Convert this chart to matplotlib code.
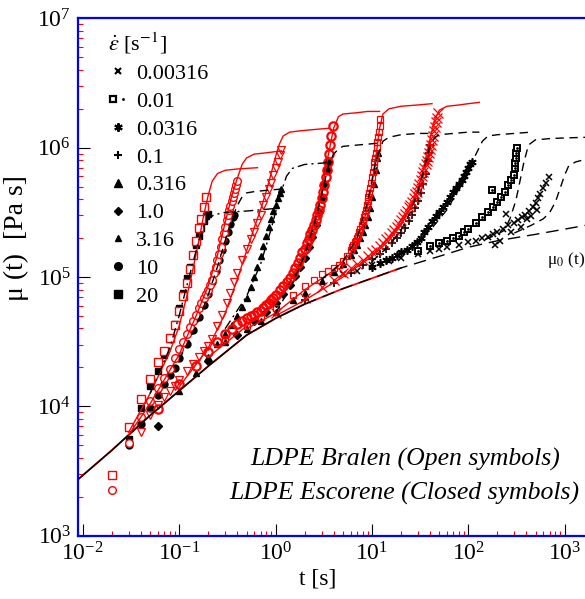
import matplotlib

matplotlib.use("Agg")
import matplotlib.pyplot as plt
import numpy as np
from matplotlib.legend_handler import HandlerTuple
from matplotlib.lines import Line2D
from matplotlib.ticker import LogLocator, NullFormatter

plt.rcParams["font.family"] = ["Liberation Serif", "DejaVu Serif"]
plt.rcParams["mathtext.fontset"] = "stix"

# values: t in s, mu given as log10(mu / Pa s)

# linear viscoelastic envelope mu0(t)
lve_t = [0.0091, 0.02, 0.05, 0.1, 0.2, 0.5, 1, 2, 5, 10, 20, 50, 100, 200, 500, 1000, 1660]
lve_logmu = [3.44, 3.66, 3.93, 4.12, 4.31, 4.55, 4.68, 4.79, 4.91, 4.99, 5.07, 5.16,
             5.23, 5.28, 5.33, 5.37, 5.40]

# LDPE Bralen, measured (open red symbols)
bra20_t = [0.02, 0.03, 0.04, 0.05, 0.06, 0.07, 0.08, 0.09, 0.10, 0.11, 0.12, 0.13,
           0.14, 0.15, 0.16, 0.17, 0.18, 0.19]
bra20_logmu = [3.47, 3.84, 4.06, 4.21, 4.34, 4.43, 4.53, 4.63, 4.74, 4.85, 4.95, 5.06,
               5.17, 5.28, 5.38, 5.45, 5.54, 5.62]
bra10_t = [0.02, 0.03, 0.04, 0.05, 0.06, 0.07, 0.08, 0.09, 0.10, 0.11, 0.12, 0.13,
           0.14, 0.15, 0.16, 0.17, 0.18, 0.19, 0.20, 0.21, 0.22, 0.23, 0.24, 0.25,
           0.26, 0.27, 0.28, 0.29, 0.30, 0.31, 0.32, 0.33, 0.34, 0.35, 0.36, 0.37,
           0.38, 0.39, 0.40]
bra10_logmu = [3.35, 3.72, 3.92, 4.04, 4.14, 4.22, 4.29, 4.37, 4.44, 4.50, 4.56, 4.61,
               4.66, 4.71, 4.76, 4.80, 4.84, 4.87, 4.90, 4.94, 4.98, 5.03, 5.08, 5.13,
               5.18, 5.23, 5.29, 5.34, 5.39, 5.44, 5.48, 5.52, 5.55, 5.59, 5.62, 5.65,
               5.68, 5.71, 5.74]
bra316_t = [0.04, 0.05, 0.06, 0.07, 0.08, 0.09, 0.10, 0.12, 0.14, 0.16, 0.18, 0.20,
            0.22, 0.25, 0.28, 0.31, 0.34, 0.37, 0.40, 0.45, 0.50, 0.55, 0.60, 0.65,
            0.70, 0.75, 0.80, 0.85, 0.90, 0.95, 1.00, 1.05, 1.10, 1.15]
bra316_logmu = [3.80, 3.93, 4.01, 4.07, 4.12, 4.16, 4.20, 4.27, 4.33, 4.38, 4.43, 4.47,
                4.52, 4.62, 4.71, 4.80, 4.88, 4.96, 5.03, 5.13, 5.22, 5.29, 5.35, 5.42,
                5.48, 5.56, 5.62, 5.68, 5.73, 5.79, 5.84, 5.89, 5.94, 5.98]
bra1_t = [0.06, 0.1, 0.15, 0.2, 0.25, 0.3, 0.35, 0.4, 0.45, 0.5, 0.55, 0.6, 0.65, 0.7,
          0.75, 0.8, 0.85, 0.9, 0.95, 1.0, 1.1, 1.2, 1.3, 1.4, 1.5, 1.6, 1.7, 1.8, 1.9,
          2.0, 2.1, 2.2, 2.3, 2.4, 2.5, 2.6, 2.7, 2.8, 2.9, 3.0, 3.1, 3.2, 3.3, 3.4,
          3.5, 3.6, 3.7, 3.8, 3.9]
bra1_logmu = [3.98, 4.17, 4.31, 4.42, 4.50, 4.56, 4.60, 4.64, 4.66, 4.68, 4.70, 4.71,
              4.73, 4.74, 4.76, 4.78, 4.80, 4.82, 4.84, 4.86, 4.90, 4.93, 4.96, 4.99,
              5.03, 5.07, 5.11, 5.15, 5.19, 5.22, 5.26, 5.29, 5.33, 5.36, 5.40, 5.44,
              5.48, 5.52, 5.56, 5.61, 5.66, 5.71, 5.77, 5.83, 5.89, 5.95, 6.02, 6.09, 6.17]
bra0316_t = [0.3, 0.5, 0.7, 1.0, 1.5, 2.0, 2.5, 3.0, 3.5, 4.0, 4.5, 5.0, 5.5, 6.0, 6.2,
             6.4, 6.6, 6.8, 7.0, 7.2, 7.4, 7.6, 7.8, 8.0, 8.2, 8.4, 8.6, 8.8, 9.0, 9.2,
             9.4, 9.6, 9.8, 10.0, 10.2, 10.4, 10.6, 10.8, 11.0, 11.2, 11.4, 11.6, 11.8,
             12.0, 12.2]
bra0316_logmu = [4.52, 4.62, 4.69, 4.76, 4.86, 4.93, 4.98, 5.02, 5.05, 5.07, 5.09, 5.12,
                 5.16, 5.21, 5.23, 5.25, 5.27, 5.28, 5.30, 5.32, 5.35, 5.37, 5.40, 5.43,
                 5.46, 5.49, 5.52, 5.56, 5.59, 5.62, 5.65, 5.69, 5.73, 5.77, 5.81, 5.85,
                 5.89, 5.92, 5.96, 6.00, 6.04, 6.08, 6.12, 6.17, 6.22]
bra01_t = [1, 2, 3, 4, 5, 6, 7, 8, 9, 10, 11, 12, 13, 14, 15, 16, 17, 18, 19, 20, 21, 22,
           23, 24, 25, 26, 27, 28, 29, 30, 31, 32, 33, 34, 35, 36, 37, 38, 39, 40, 41, 42,
           43, 44, 45, 46, 47, 48]
bra01_logmu = [4.72, 4.84, 4.92, 4.98, 5.03, 5.07, 5.10, 5.13, 5.16, 5.19, 5.21, 5.24,
               5.26, 5.29, 5.31, 5.34, 5.36, 5.39, 5.41, 5.44, 5.46, 5.49, 5.51, 5.54,
               5.56, 5.58, 5.61, 5.64, 5.66, 5.69, 5.72, 5.75, 5.78, 5.81, 5.84, 5.87,
               5.90, 5.93, 5.96, 5.99, 6.02, 6.06, 6.09, 6.13, 6.16, 6.20, 6.23, 6.27]

# LDPE Escorene, measured (closed black symbols)
esc20_t = [0.03, 0.04, 0.05, 0.06, 0.07, 0.08, 0.09, 0.10, 0.11, 0.12, 0.13, 0.14, 0.15,
           0.16, 0.17, 0.18, 0.19, 0.20]
esc20_logmu = [3.75, 3.99, 4.16, 4.27, 4.40, 4.52, 4.64, 4.76, 4.88, 4.99, 5.08, 5.17,
               5.25, 5.32, 5.38, 5.43, 5.47, 5.49]
esc10_t = [0.03, 0.04, 0.05, 0.06, 0.07, 0.08, 0.09, 0.10, 0.12, 0.14, 0.16, 0.18, 0.20,
           0.22, 0.24, 0.26, 0.28, 0.30, 0.32, 0.34, 0.36, 0.37]
esc10_logmu = [3.70, 3.86, 3.99, 4.09, 4.17, 4.24, 4.30, 4.37, 4.48, 4.59, 4.69, 4.78,
               4.87, 4.96, 5.05, 5.13, 5.21, 5.28, 5.35, 5.41, 5.46, 5.48]
esc316_t = [0.1, 0.15, 0.2, 0.25, 0.3, 0.35, 0.4, 0.45, 0.5, 0.55, 0.6, 0.65, 0.7, 0.75,
            0.8, 0.85, 0.9, 0.95, 1.0, 1.05, 1.1, 1.15]
esc316_logmu = [4.12, 4.26, 4.38, 4.48, 4.56, 4.63, 4.70, 4.77, 4.84, 4.92, 5.00, 5.08,
                5.16, 5.24, 5.32, 5.39, 5.45, 5.51, 5.56, 5.61, 5.65, 5.68]
esc1_t = [0.06, 0.2, 0.4, 0.6, 0.8, 1.0, 1.2, 1.4, 1.6, 1.8, 2.0, 2.2, 2.4, 2.6, 2.8, 3.0,
          3.2, 3.4, 3.5]
esc1_logmu = [3.85, 4.35, 4.55, 4.66, 4.73, 4.80, 4.87, 4.94, 5.01, 5.08, 5.15, 5.23,
              5.31, 5.40, 5.50, 5.60, 5.72, 5.83, 5.89]
esc0316_t = [0.3, 0.5, 0.7, 1, 1.5, 2, 3, 4, 5, 6, 6.5, 7, 7.5, 8, 8.5, 9, 9.5, 10, 10.5,
             11, 11.3, 11.5]
esc0316_logmu = [4.50, 4.60, 4.66, 4.73, 4.82, 4.88, 4.97, 5.04, 5.10, 5.17, 5.21, 5.25,
                 5.30, 5.35, 5.40, 5.46, 5.53, 5.62, 5.72, 5.83, 5.92, 5.96]
esc01_t = [2, 4, 6, 8, 10, 12, 14, 16, 18, 20, 22, 24, 26, 28, 30, 32, 34, 36, 38, 39, 40]
esc01_logmu = [4.82, 4.95, 5.03, 5.09, 5.14, 5.18, 5.22, 5.26, 5.30, 5.34, 5.38, 5.43,
               5.48, 5.53, 5.59, 5.65, 5.72, 5.80, 5.90, 5.96, 6.02]
esc00316_t = [10, 12, 14, 16, 18, 20, 23, 26, 29, 32, 35, 38, 42, 46, 50, 55, 60, 65, 70,
              75, 80, 85, 90, 95, 100, 105, 110]
esc00316_logmu = [5.08, 5.11, 5.13, 5.15, 5.17, 5.19, 5.21, 5.24, 5.27, 5.30, 5.35, 5.39,
                  5.43, 5.47, 5.50, 5.54, 5.58, 5.62, 5.66, 5.69, 5.72, 5.75, 5.78, 5.81,
                  5.84, 5.87, 5.89]
esc001_t = [30, 40, 50, 60, 70, 80, 90, 100, 120, 140, 160, 176, 180, 200, 220, 240, 260,
            280, 300, 305, 308, 311, 314, 316]
esc001_logmu = [5.20, 5.24, 5.26, 5.28, 5.30, 5.32, 5.35, 5.37, 5.42, 5.46, 5.50, 5.67,
                5.54, 5.58, 5.62, 5.66, 5.71, 5.75, 5.79, 5.84, 5.88, 5.92, 5.96, 6.00]
esc000316_t = [5, 7, 10, 15, 20, 30, 40, 50, 60, 80, 100, 120, 140, 160, 180, 190, 200,
               215, 230, 246, 260, 280, 300, 330, 350, 360, 390, 410, 430, 450, 470, 500,
               520, 530, 560, 600, 640, 680]
esc000316_logmu = [5.02, 5.05, 5.09, 5.12, 5.15, 5.18, 5.20, 5.22, 5.23, 5.25, 5.27, 5.28,
                   5.30, 5.31, 5.33, 5.25, 5.35, 5.28, 5.37, 5.49, 5.40, 5.35, 5.42, 5.44,
                   5.39, 5.46, 5.48, 5.45, 5.51, 5.47, 5.54, 5.57, 5.52, 5.61, 5.64, 5.69,
                   5.73, 5.77]

# model predictions, Bralen (thin red lines)
mod_bra20_t = [0.03, 0.05, 0.08, 0.10, 0.12, 0.14, 0.16, 0.18, 0.20, 0.22, 0.25, 0.30, 0.40, 0.65]
mod_bra20_logmu = [3.80, 4.10, 4.42, 4.62, 4.85, 5.07, 5.28, 5.48, 5.63, 5.74, 5.80, 5.825,
                   5.835, 5.845]
mod_bra10_t = [0.03, 0.05, 0.1, 0.15, 0.2, 0.25, 0.3, 0.35, 0.4, 0.45, 0.5, 0.6, 0.8, 1.15]
mod_bra10_logmu = [3.78, 4.02, 4.40, 4.70, 4.93, 5.17, 5.42, 5.62, 5.76, 5.87, 5.92, 5.95,
                   5.96, 5.975]
mod_bra316_t = [0.1, 0.2, 0.3, 0.4, 0.5, 0.6, 0.7, 0.8, 0.9, 1.0, 1.1, 1.2, 1.4, 1.8, 2.5, 3.6]
mod_bra316_logmu = [4.15, 4.45, 4.72, 4.98, 5.20, 5.38, 5.52, 5.66, 5.80, 5.93, 6.03, 6.09,
                    6.12, 6.13, 6.14, 6.15]
mod_bra1_t = [0.2, 0.5, 1.0, 1.5, 2.0, 2.5, 3.0, 3.5, 4.0, 4.5, 5.0, 7.0, 9.0, 12.0]
mod_bra1_logmu = [4.38, 4.62, 4.80, 5.00, 5.20, 5.42, 5.66, 5.93, 6.15, 6.24, 6.26, 6.27,
                  6.28, 6.28]
mod_bra0316_t = [0.5, 1, 2, 4, 6, 8, 9, 10, 11, 12, 13, 15, 20, 30, 42]
mod_bra0316_logmu = [4.60, 4.72, 4.90, 5.05, 5.18, 5.40, 5.54, 5.72, 5.93, 6.15, 6.26, 6.30,
                     6.32, 6.33, 6.34]
mod_bra01_t = [1, 2, 5, 10, 15, 20, 25, 30, 35, 40, 45, 50, 60, 80, 100, 130]
mod_bra01_logmu = [4.70, 4.82, 5.00, 5.16, 5.28, 5.40, 5.53, 5.68, 5.86, 6.06, 6.22, 6.29,
                   6.32, 6.33, 6.34, 6.35]

# model predictions, Escorene (black dashed lines)
mod_esc20_t = [0.05, 0.08, 0.10, 0.12, 0.14, 0.16, 0.18, 0.20, 0.23, 0.3, 0.5, 1.0]
mod_esc20_logmu = [4.10, 4.45, 4.70, 4.93, 5.12, 5.28, 5.39, 5.45, 5.48, 5.50, 5.51, 5.53]
mod_esc10_t = [0.1, 0.15, 0.2, 0.25, 0.3, 0.35, 0.4, 0.45, 0.5, 0.6, 0.8, 1.15]
mod_esc10_logmu = [4.36, 4.62, 4.86, 5.08, 5.28, 5.44, 5.55, 5.62, 5.65, 5.66, 5.67, 5.68]
mod_esc316_t = [0.3, 0.5, 0.7, 0.9, 1.1, 1.3, 1.5, 2.0, 3.0, 3.9]
mod_esc316_logmu = [4.60, 4.85, 5.10, 5.37, 5.62, 5.78, 5.84, 5.87, 5.88, 5.89]
mod_esc1_t = [1, 1.5, 2, 2.5, 3, 3.5, 4, 4.5, 5, 7, 10, 13]
mod_esc1_logmu = [4.72, 4.95, 5.17, 5.40, 5.63, 5.85, 5.95, 5.99, 6.01, 6.02, 6.03, 6.04]
mod_esc0316_t = [3, 5, 7, 9, 11, 13, 15, 20, 30, 42]
mod_esc0316_logmu = [4.98, 5.12, 5.30, 5.58, 5.90, 6.05, 6.08, 6.10, 6.11, 6.11]
mod_esc01_t = [10, 15, 20, 25, 30, 35, 40, 45, 50, 70, 100, 130]
mod_esc01_logmu = [5.12, 5.24, 5.36, 5.50, 5.66, 5.84, 6.02, 6.08, 6.10, 6.11, 6.12, 6.12]
mod_esc00316_t = [20, 40, 60, 80, 100, 120, 140, 160, 200, 300, 450]
mod_esc00316_logmu = [5.18, 5.36, 5.52, 5.68, 5.82, 5.95, 6.05, 6.09, 6.10, 6.11, 6.12]
mod_esc001_t = [150, 200, 235, 270, 311, 345, 375, 420, 495, 700, 1000, 1660]
mod_esc001_logmu = [5.29, 5.33, 5.36, 5.45, 5.59, 5.75, 5.88, 6.02, 6.06, 6.07, 6.075, 6.08]
mod_esc000316_t = [300, 450, 600, 700, 800, 900, 1000, 1100, 1300, 1660]
mod_esc000316_logmu = [5.34, 5.40, 5.45, 5.50, 5.58, 5.69, 5.79, 5.86, 5.89, 5.91]

rate_labels = ["0.00316", "0.01", "0.0316", "0.1", "0.316", "1.0", "3.16", "10", "20"]


def mu(logmu):
    return 10.0 ** np.asarray(logmu)


fig = plt.figure(figsize=(5.85, 5.99), dpi=100)
ax = fig.add_axes([78 / 585, 63.3 / 599, 507 / 585, 517.4 / 599])

RED = "#ff0000"

# measured Escorene (closed black)
ax.plot(esc000316_t, mu(esc000316_logmu), ls="none", marker="x", color="k", ms=5, mew=1.1)
ax.plot(esc001_t, mu(esc001_logmu), ls="none", marker="s", mfc="white", mec="k", ms=5, mew=1.4)
ax.plot(esc001_t, mu(esc001_logmu), ls="none", marker=".", color="k", ms=2)
ax.plot(esc00316_t, mu(esc00316_logmu), ls="none", marker=(6, 2, 0), color="k", ms=6, mew=1.2)
ax.plot(esc01_t, mu(esc01_logmu), ls="none", marker="+", color="k", ms=6, mew=1.2)
ax.plot(esc0316_t, mu(esc0316_logmu), ls="none", marker="^", color="k", ms=5)
ax.plot(esc1_t, mu(esc1_logmu), ls="none", marker="D", color="k", ms=4)
ax.plot(esc316_t, mu(esc316_logmu), ls="none", marker="^", color="k", ms=4.2)
ax.plot(esc10_t, mu(esc10_logmu), ls="none", marker="o", color="k", ms=5)
ax.plot(esc20_t, mu(esc20_logmu), ls="none", marker="s", color="k", ms=5)

# measured Bralen (open red)
ax.plot(bra01_t, mu(bra01_logmu), ls="none", marker="x", color=RED, ms=6.5, mew=0.9)
ax.plot(bra0316_t, mu(bra0316_logmu), ls="none", marker="s", mfc="none", mec=RED, ms=5, mew=0.9)
ax.plot(bra1_t, mu(bra1_logmu), ls="none", marker="o", mfc="none", mec=RED, ms=6, mew=1.6)
ax.plot(bra316_t, mu(bra316_logmu), ls="none", marker="v", mfc="none", mec=RED, ms=5.5, mew=0.9)
ax.plot(bra10_t, mu(bra10_logmu), ls="none", marker="o", mfc="white", mec=RED, ms=5.5, mew=1.0)
ax.plot(bra20_t, mu(bra20_logmu), ls="none", marker="s", mfc="white", mec=RED, ms=5.5, mew=1.0)

# envelope
ax.plot(lve_t[:11], mu(lve_logmu[:11]), color=RED, lw=1.3)
ax.plot(lve_t[:8], mu(lve_logmu[:8]), color="k", lw=1.1)
ax.plot(lve_t[7:], mu(lve_logmu[7:]), color="k", lw=1.0, dashes=(9, 5))

# model lines
for t, lm in [(mod_bra20_t, mod_bra20_logmu), (mod_bra10_t, mod_bra10_logmu),
              (mod_bra316_t, mod_bra316_logmu), (mod_bra1_t, mod_bra1_logmu),
              (mod_bra0316_t, mod_bra0316_logmu), (mod_bra01_t, mod_bra01_logmu)]:
    ax.plot(t, mu(lm), color=RED, lw=1.0)

dash = (6, 4)
dashdot = (7, 3, 1.5, 3)
for t, lm, style in [(mod_esc20_t, mod_esc20_logmu, dashdot), (mod_esc10_t, mod_esc10_logmu, dash),
                     (mod_esc316_t, mod_esc316_logmu, dashdot), (mod_esc1_t, mod_esc1_logmu, dash),
                     (mod_esc0316_t, mod_esc0316_logmu, dash), (mod_esc01_t, mod_esc01_logmu, dash),
                     (mod_esc00316_t, mod_esc00316_logmu, dash), (mod_esc001_t, mod_esc001_logmu, dash),
                     (mod_esc000316_t, mod_esc000316_logmu, dash)]:
    ax.plot(t, mu(lm), color="k", lw=1.0, dashes=style)

ax.set_xscale("log")
ax.set_yscale("log")
ax.set_xlim(10 ** -2.049, 10 ** 3.21)
ax.set_ylim(1e3, 1e7)

for side in ["left", "top", "bottom"]:
    ax.spines[side].set_color("#0000ff")
    ax.spines[side].set_linewidth(1.6)
ax.spines["right"].set_visible(False)

for axis in [ax.xaxis, ax.yaxis]:
    axis.set_major_locator(LogLocator(base=10, numticks=20))
    axis.set_minor_locator(LogLocator(base=10, subs=np.arange(2, 10), numticks=20))
    axis.set_minor_formatter(NullFormatter())
ax.tick_params(which="major", direction="in", length=8.5, width=0.8, color="k",
               top=False, right=False, labelsize=17, pad=5)
ax.tick_params(which="minor", direction="in", length=3.8, width=0.8, color=RED,
               top=False, right=False)

ax.set_xlabel("t [s]", fontsize=17)
ax.set_ylabel("μ (t)  [Pa s]", fontsize=20)
ax.xaxis.set_label_coords(0.473, -0.064)
ax.yaxis.set_label_coords(-0.097, 0.575)

handles = [
    Line2D([], [], ls="none", marker="x", color="k", ms=5, mew=1.5),
    (Line2D([], [], ls="none", marker="s", mfc="white", mec="k", ms=5, mew=1.6),
     Line2D([], [], ls="none", marker=".", color="k", ms=2)),
    Line2D([], [], ls="none", marker=(6, 2, 0), color="k", ms=6, mew=1.5),
    Line2D([], [], ls="none", marker="+", color="k", ms=6, mew=1.5),
    Line2D([], [], ls="none", marker="^", color="k", ms=5.5),
    Line2D([], [], ls="none", marker="D", color="k", ms=4.5),
    Line2D([], [], ls="none", marker="^", color="k", ms=4.5),
    Line2D([], [], ls="none", marker="o", color="k", ms=5.5),
    Line2D([], [], ls="none", marker="s", color="k", ms=5.5),
]
ax.legend(handles, rate_labels, title=r"$\dot{\varepsilon}$ [s$^{-1}$]", loc="upper left",
          bbox_to_anchor=(0.037, 0.998), frameon=False, fontsize=16, title_fontsize=16,
          handlelength=0.9, handletextpad=0.35, labelspacing=0.33, borderpad=0,
          alignment="left", handler_map={tuple: HandlerTuple(ndivide=None)})

ax.text(0.645, 0.147, "LDPE Bralen (Open symbols)", transform=ax.transAxes,
        ha="center", va="center", fontsize=18.5, style="italic")
ax.text(0.643, 0.081, "LDPE Escorene (Closed symbols)", transform=ax.transAxes,
        ha="center", va="center", fontsize=18.5, style="italic")
ax.text(0.962, 0.533, "μ$_0$ (t)", transform=ax.transAxes, ha="center", va="center",
        fontsize=12.5)

fig.savefig("out.png", dpi=100)
